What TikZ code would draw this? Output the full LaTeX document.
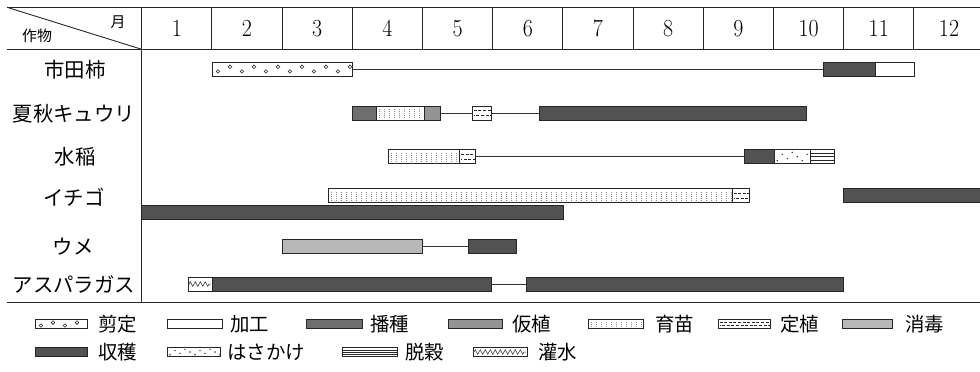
\documentclass[tikz,border=0pt]{standalone}
\usepackage{fontspec}
\usepackage{graphicx}
\newfontfamily\jp{Noto Sans CJK JP}
\usetikzlibrary{calc,decorations.pathmorphing}
\newcommand\colx[1]{(141.7+(#1-1)*70.2)}
\newcommand\ppb{path picture bounding box}
\tikzset{
  x=1bp, y=-1bp,
  tbl/.style={line width=0.9bp, draw=black!85},
  bx/.style={draw=black!85, line width=0.7bp},
  link/.style={line width=0.7bp, draw=black!80},
  harvest/.style={bx, fill=black!68},
  sowing/.style={bx, fill=black!57},
  transp/.style={bx, fill=black!42},
  spray/.style={bx, fill=black!28},
  processing/.style={bx, fill=white},
  pruning/.style={bx, fill=white, path picture={
    \foreach \i [evaluate=\i as \yy using {ifthenelse(mod(\i,2)==0,0.33,0.66)}] in {0,...,40}{
      \draw[line width=0.55bp] ($(\ppb.south west)!\yy!(\ppb.north west)+(\i*12+6,0)$) circle (1.8bp);
      \fill ($(\ppb.south west)!{1-\yy}!(\ppb.north west)+(\i*12+12,0)$) circle (0.6bp);
    }}},
  nursery/.style={bx, fill=white, path picture={
    \foreach \i in {0,...,90}{
      \draw[black!45, line width=0.4bp, dash pattern=on 0.9bp off 1.1bp]
        ([xshift=\i*5bp+3bp, yshift=2bp]\ppb.south west) -- ([xshift=\i*5bp+3bp, yshift=-2bp]\ppb.north west);
    }}},
  planting/.style={bx, fill=white, path picture={
    \draw[line width=0.55bp, dash pattern=on 3bp off 1.6bp]
      ($(\ppb.south west)!0.68!(\ppb.north west)+(1.5,0)$) -- ($(\ppb.south east)!0.68!(\ppb.north east)$);
    \draw[line width=0.55bp, dash pattern=on 3bp off 1.6bp, dash phase=2bp]
      ($(\ppb.south west)!0.32!(\ppb.north west)+(1.5,0)$) -- ($(\ppb.south east)!0.32!(\ppb.north east)$);
    }},
  hasa/.style={bx, fill=white, path picture={
    \foreach \i [evaluate=\i as \yy using {0.2+0.15*mod(\i*3,5)}] in {0,...,40}{
      \fill[black!80] ($(\ppb.south west)!\yy!(\ppb.north west)+(\i*5+3,0)$) circle (0.8bp);
    }}},
  thresh/.style={bx, fill=white, path picture={
    \foreach \f in {0.25,0.5,0.75}{
      \draw[line width=0.5bp] ($(\ppb.south west)!\f!(\ppb.north west)$) -- ($(\ppb.south east)!\f!(\ppb.north east)$);
    }}},
  irrig/.style={bx, fill=white, path picture={
    \draw[line width=0.5bp, decorate, decoration={zigzag, segment length=5bp, amplitude=2.3bp}]
      ([xshift=1bp]\ppb.west) -- ([xshift=-1bp]\ppb.east);
    }},
  lab/.style={font=\jp\fontsize{20.5}{21}\selectfont, inner sep=0},
  legt/.style={font=\jp\fontsize{19.5}{20}\selectfont, anchor=west, inner sep=0},
  mon/.style={font=\fontsize{22}{22}\selectfont, inner sep=0},
  hdr/.style={font=\jp\fontsize{15}{15}\selectfont, inner sep=0}
}
\newcommand\gbar[4]{\path[#4] ({\colx{#1}},#3) rectangle ({\colx{#2}},{#3+14});}
\newcommand\glink[3]{\draw[link] ({\colx{#1}},{#3+7}) -- ({\colx{#2}},{#3+7});}
\newcommand\legitem[7]{%
  \path[#4] (#1,{#3-4.5}) rectangle (#2,{#3+4.5});
  \node[legt] (#7) at (#5,#3) {#6};}
\begin{document}
\begin{tikzpicture}
\useasboundingbox (0,0) rectangle (980,371);
\begin{scope}
\clip (0,0) rectangle (980,371);
% table frame
\draw[tbl] (7,7.3) -- (980,7.3);
\draw[tbl] (7,49.3) -- (980,49.3);
\draw[tbl] (7,7.3) -- (141.7,49.3);
\foreach \m in {2,...,12}{\draw[tbl] ({\colx{\m}},7.3) -- ({\colx{\m}},49.3);}
\draw[tbl] (141.7,7.3) -- (141.7,302);
\draw[tbl] (7,302) -- (980,302);
\node[hdr] (hm) at (118,22) {月};
\node[hdr] (hc) at (37,35.5) {作物};
\foreach \m in {1,...,12}{\node[mon] (m\m) at ({\colx{\m}+35.1},28.5) {\scalebox{1}[1.12]{\m}};}
% row labels
\node[lab] (r1) at (75,70) {市田柿};
\node[lab] (r2) at (74,114) {夏秋キュウリ};
\node[lab] (r3) at (75,157) {水稲};
\node[lab] (r4) at (74,197) {イチゴ};
\node[lab] (r5) at (73,246.5) {ウメ};
\node[lab] (r6) at (74,284.5) {アスパラガス};
% row 1
\glink{4}{10.71}{62}
\gbar{2}{4}{62}{pruning}
\gbar{10.71}{11.45}{62}{harvest}
\gbar{11.45}{12}{62}{processing}
% row 2
\glink{5.26}{5.71}{106}
\glink{5.98}{6.67}{106}
\gbar{4}{4.34}{106}{sowing}
\gbar{4.34}{5.02}{106}{nursery}
\gbar{5.02}{5.26}{106}{transp}
\gbar{5.71}{5.98}{106}{planting}
\gbar{6.67}{10.47}{106}{harvest}
% row 3
\glink{5.75}{9.59}{149.5}
\gbar{4.51}{5.53}{149.5}{nursery}
\gbar{5.53}{5.75}{149.5}{planting}
\gbar{9.59}{10.01}{149.5}{harvest}
\gbar{10.01}{10.53}{149.5}{hasa}
\gbar{10.53}{10.87}{149.5}{thresh}
% row 4
\gbar{3.66}{9.41}{188.5}{nursery}
\gbar{9.41}{9.66}{188.5}{planting}
\gbar{11}{13}{188.5}{harvest}
\gbar{1}{7}{205}{harvest}
% row 5
\glink{5}{5.65}{239.5}
\gbar{3}{5}{239.5}{spray}
\gbar{5.65}{6.34}{239.5}{harvest}
% row 6
\glink{5.98}{6.48}{277}
\gbar{1.66}{2}{277}{irrig}
\gbar{2}{5.98}{277}{harvest}
\gbar{6.48}{11}{277}{harvest}
% legend
\legitem{35}{87}{324}{pruning}{98}{剪定}{k1}
\legitem{167}{222}{324}{processing}{230}{加工}{k2}
\legitem{306}{362}{324}{sowing}{370}{播種}{k3}
\legitem{448}{502}{324}{transp}{512}{仮植}{k4}
\legitem{588}{643}{324}{nursery}{655}{育苗}{k5}
\legitem{718}{770}{324}{planting}{780}{定植}{k6}
\legitem{842}{892}{324}{spray}{905}{消毒}{k7}
\legitem{35}{87}{352}{harvest}{98}{収穫}{k8}
\legitem{167}{220}{352}{hasa}{227}{はさかけ}{k9}
\legitem{342}{397}{352}{thresh}{405}{脱穀}{k10}
\legitem{473}{527}{352}{irrig}{538}{灌水}{k11}
\end{scope}
\end{tikzpicture}
\end{document}
